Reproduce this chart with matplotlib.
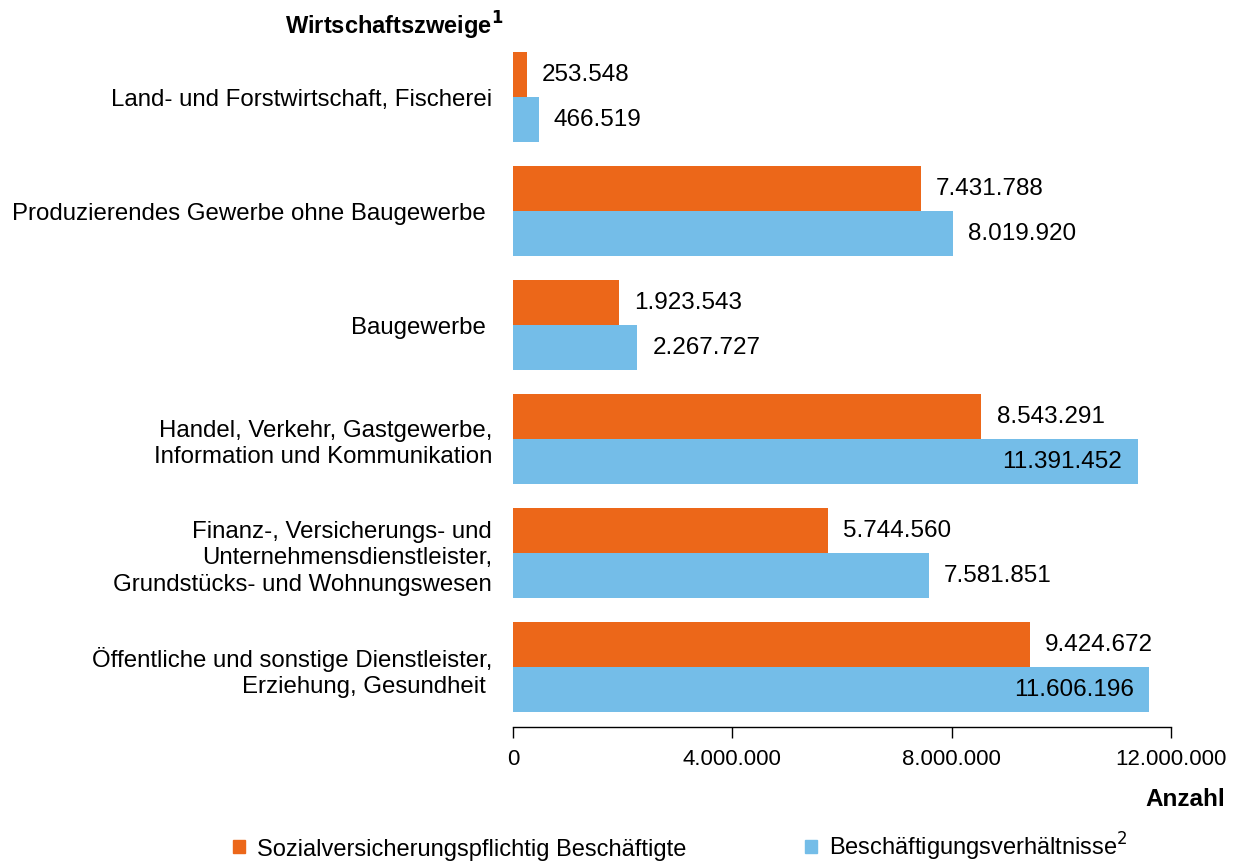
import matplotlib.pyplot as plt
from matplotlib.patches import Patch
import numpy as np

plt.rcParams['font.family'] = ['Liberation Sans', 'DejaVu Sans']

# Daten
kategorien = [
    'Land- und Forstwirtschaft, Fischerei',
    'Produzierendes Gewerbe ohne Baugewerbe ',
    'Baugewerbe ',
    'Handel, Verkehr, Gastgewerbe,\nInformation und Kommunikation',
    'Finanz-, Versicherungs- und\nUnternehmensdienstleister,\nGrundstücks- und Wohnungswesen',
    'Öffentliche und sonstige Dienstleister,\nErziehung, Gesundheit ',
]
sv_beschaeftigte = [253548, 7431788, 1923543, 8543291, 5744560, 9424672]
beschaeftigungsverh = [466519, 8019920, 2267727, 11391452, 7581851, 11606196]
xticks = [0, 4000000, 8000000, 12000000]

orange = '#EC6719'
blau = '#74BDE8'

def fmt(v):
    return f'{v:,}'.replace(',', '.')

fig = plt.figure(figsize=(12.41, 8.62), dpi=100)
ax = fig.add_axes([0.4134, 0.1555, 0.5302, 0.7969])

y = np.arange(len(kategorien))
h = 0.395
ax.barh(y - h / 2, sv_beschaeftigte, height=h, color=orange)
ax.barh(y + h / 2, beschaeftigungsverh, height=h, color=blau)

# Werte beschriften
for i in range(len(kategorien)):
    for off, v in [(-h / 2, sv_beschaeftigte[i]), (h / 2, beschaeftigungsverh[i])]:
        if v > 11000000:
            ax.annotate(fmt(v), (v, y[i] + off), xytext=(-11, 0), textcoords='offset points',
                        ha='right', va='center', fontsize=17.5)
        else:
            ax.annotate(fmt(v), (v, y[i] + off), xytext=(11, 0), textcoords='offset points',
                        ha='left', va='center', fontsize=17.5)

ax.set_xlim(0, 12000000)
ax.set_ylim(5.53, -0.5)
ax.set_xticks(xticks)
ax.set_xticklabels([fmt(t) for t in xticks], fontsize=16)
ax.set_yticks(y)
ax.set_yticklabels(kategorien, fontsize=17.3, ha='right', linespacing=1.25)
ax.tick_params(axis='y', length=0, pad=15)
ax.tick_params(axis='x', length=8, width=1, pad=7)
for s in ['top', 'right', 'left']:
    ax.spines[s].set_visible(False)
ax.spines['bottom'].set_linewidth(1)

fig.text(0.4055, 0.970, 'Wirtschaftszweige$^{\\mathbf{1}}$', fontsize=17, fontweight='bold',
         ha='right', va='center')
fig.text(0.987, 0.072, 'Anzahl', fontsize=17.5, fontweight='bold', ha='right', va='center')

handles = [Patch(color=orange), Patch(color=blau)]
fig.legend(handles, ['Sozialversicherungspflichtig Beschäftigte', 'Beschäftigungsverhältnisse$^2$'],
           loc='center left', bbox_to_anchor=(233 / 1241, 0.0174), ncol=2, frameon=False,
           fontsize=17, borderpad=0, borderaxespad=0,
           handlelength=0.51, handleheight=0.51, handletextpad=0.51, columnspacing=5.0)

fig.savefig('out.png', dpi=100)
